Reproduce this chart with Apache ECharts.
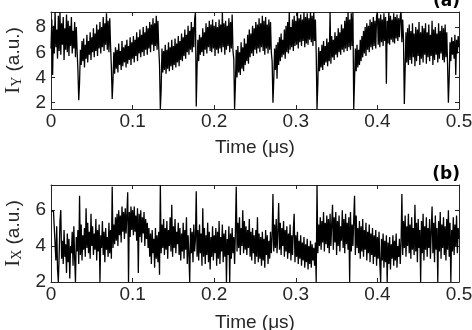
<!DOCTYPE html>
<html>
<head>
<meta charset="utf-8">
<script src="https://cdn.jsdelivr.net/npm/echarts@6/dist/echarts.min.js"></script>
<style>html,body{margin:0;padding:0;background:#fff}#c{width:472px;height:330px}</style>
</head>
<body>
<div id="c"></div>
<script>
// sampling grid (µs)
const t0 = 0, dt = 0.001;
const xTicks = [0, 0.1, 0.2, 0.3, 0.4, 0.5];
const yTicksA = [2, 4, 6, 8];
const yTicksB = [2, 4, 6];
// (a) I_Y (a.u.), one row = 0.02 µs
const IY = [
6.3,8.6,4.2,8.1,5.9,9.2,6.4,7.8,5.5,8.9,6.1,9.2,5.8,8.3,6.6,8.8,5.4,7.9,6.2,9.0,
6.0,8.5,5.7,8.1,6.5,8.8,5.9,7.7,6.3,8.4,5.6,8.0,6.1,4.6,2.2,3.6,6.2,5.0,6.9,5.3,
7.1,4.8,6.6,5.5,7.4,5.2,6.9,5.8,7.6,5.4,7.2,6.0,7.9,5.6,7.5,6.1,8.2,5.7,7.8,6.3,
8.4,5.9,8.0,6.4,8.8,6.1,8.3,6.6,9.1,6.2,8.5,6.0,8.7,6.5,4.8,2.3,3.8,6.0,4.3,6.4,
4.7,6.2,4.4,6.7,5.0,6.1,4.6,6.9,4.9,6.4,5.2,6.6,4.8,7.0,5.1,6.5,5.4,7.2,5.0,6.8,
5.5,7.3,5.2,7.0,5.7,7.6,5.3,7.2,5.9,7.8,5.6,7.4,6.0,8.0,5.7,7.6,6.2,8.1,5.8,7.9,
6.3,8.4,6.0,8.2,6.6,8.7,6.1,8.3,6.5,8.9,6.2,8.5,6.4,5.0,1.5,3.0,6.3,4.4,6.1,4.6,
6.6,4.3,6.2,4.7,6.8,4.5,6.4,4.9,7.0,4.6,6.5,5.0,7.1,4.8,6.7,5.2,7.3,4.9,6.9,5.4,
7.5,5.3,7.2,5.7,7.8,5.5,7.4,6.0,8.1,5.8,7.7,6.2,8.4,6.0,8.0,6.4,8.6,9.2,1.7,4.8,
7.0,5.3,7.4,5.8,7.2,6.0,7.9,5.7,7.6,6.2,8.3,5.9,8.0,6.4,8.5,6.1,8.2,6.0,8.6,6.3,
8.1,5.7,8.4,6.2,8.0,5.9,8.6,6.3,8.2,6.0,9.2,6.4,8.3,5.8,8.5,6.2,8.1,6.5,8.7,6.0,
8.4,6.3,9.0,6.1,5.5,1.5,3.5,6.2,4.0,6.5,4.4,6.0,4.2,6.8,4.7,6.4,4.5,7.1,5.0,6.7,
5.3,7.4,5.1,7.8,5.6,7.5,5.9,8.1,5.7,7.9,6.2,8.4,5.9,8.2,6.3,8.7,6.0,8.3,6.4,8.9,
6.1,8.5,5.8,8.8,6.3,8.2,5.9,8.6,6.2,8.4,6.0,5.3,2.0,3.8,6.3,4.6,6.6,3.9,6.8,5.0,
7.2,5.3,7.5,5.6,7.0,5.8,7.8,5.5,8.1,6.0,8.4,5.9,9.2,6.2,8.0,6.4,8.6,6.1,8.9,6.5,
8.5,6.6,9.2,6.3,8.7,6.8,9.0,6.5,8.6,6.9,9.2,6.4,8.8,6.7,9.1,6.6,8.7,7.0,9.2,6.8,
8.9,6.5,9.2,6.9,8.6,6.0,1.5,3.5,6.4,4.5,6.1,4.8,6.6,4.6,6.9,5.0,6.5,5.2,7.1,4.9,
6.8,5.3,9.2,5.1,7.3,5.6,7.0,5.4,7.6,5.8,7.3,5.6,7.9,6.0,7.6,5.8,8.2,6.2,7.9,6.0,
8.5,6.3,8.8,6.1,9.2,6.4,8.6,6.2,9.1,6.5,9.2,1.5,3.8,6.3,4.5,6.6,4.8,6.2,5.0,7.0,
5.3,7.3,5.6,7.7,5.9,8.0,5.7,8.3,6.2,8.1,6.0,8.6,6.4,8.4,6.2,8.8,6.5,8.5,6.3,8.9,
9.2,6.6,8.7,6.4,9.0,6.8,8.6,6.5,9.1,6.9,8.8,3.5,8.5,6.7,9.2,6.6,8.9,7.0,8.6,6.8,
9.1,6.7,8.8,7.1,9.0,6.9,8.7,7.2,8.9,9.2,6.8,8.6,7.0,1.9,4.6,7.6,5.2,7.9,5.0,8.2,
5.4,7.7,5.1,8.3,5.6,7.5,4.9,8.0,5.3,7.8,5.7,8.4,5.0,7.6,5.5,8.1,5.2,7.9,5.8,8.3,
5.1,7.6,5.6,8.2,5.3,7.4,5.7,8.5,5.0,7.8,5.4,8.0,5.8,7.5,5.2,8.3,5.5,7.7,5.9,8.1,
5.4,7.9,5.2,8.2,5.6,7.6,5.0,2.0,4.0,6.8,5.3,7.2,5.8,6.9,5.5,7.4,4.2,7.0,5.9,7.3,
6.4
];
// (b) I_X (a.u.), one row = 0.02 µs
const IX = [
5.95,5.95,5.9,5.95,5.9,5.9,3.2,5.1,2.7,2.0,3.5,5.4,6.0,3.3,4.3,3.0,4.9,3.4,4.1,2.5,
4.7,3.1,4.4,2.2,4.0,3.6,4.8,2.9,5.1,3.3,2.0,4.5,3.7,4.9,3.0,6.8,3.5,5.2,3.2,4.6,
3.8,5.0,3.4,6.1,3.9,5.3,3.6,4.8,3.3,5.8,4.0,5.1,3.5,4.7,3.8,5.5,3.2,4.9,3.7,5.2,
2.0,4.6,3.9,5.4,3.5,4.8,3.1,5.0,3.8,4.5,3.4,5.3,3.6,4.9,3.3,7.3,3.9,5.2,4.1,5.6,
4.3,5.8,4.0,6.0,4.6,5.7,4.2,6.2,4.8,5.9,4.4,6.1,4.7,5.8,7.0,2.0,5.9,4.5,6.2,4.9,
6.0,4.6,6.2,4.8,5.7,4.3,6.1,2.5,5.8,4.5,6.0,4.2,5.6,4.7,5.9,4.0,5.5,4.4,5.3,3.9,
5.0,3.4,4.7,3.0,4.9,3.6,4.4,2.8,5.0,3.3,4.6,3.1,4.8,2.4,7.4,3.6,5.2,3.9,5.5,3.5,
5.0,3.8,5.4,3.3,4.9,4.0,5.6,3.7,6.3,3.4,5.1,3.9,5.5,3.6,4.8,4.1,5.3,3.5,5.0,3.2,
4.7,3.7,5.3,3.3,4.9,3.8,5.6,3.0,4.6,3.5,2.0,5.0,3.6,4.8,3.1,5.2,3.7,4.4,7.05,3.4,
4.9,3.2,5.2,3.6,4.7,2.9,6.1,3.4,5.0,3.0,4.6,3.5,5.3,3.1,4.8,2.7,4.5,3.4,5.1,3.2,
4.6,3.6,5.0,2.9,4.8,3.3,5.4,3.0,4.5,3.7,5.2,3.1,4.7,3.4,4.9,2.0,4.4,3.5,5.1,2.0,
4.7,3.3,5.0,3.6,4.5,3.0,4.8,7.3,3.7,5.3,3.9,5.6,3.5,5.0,4.0,6.0,3.6,5.4,3.8,5.1,
3.5,4.9,3.9,5.5,3.4,4.8,3.2,5.0,3.6,4.6,3.0,4.9,3.4,5.6,3.1,4.7,3.3,4.5,2.9,4.8,
3.2,4.4,2.8,4.9,3.5,4.6,3.0,4.3,3.3,4.8,3.6,4.5,6.9,3.7,5.2,3.9,5.5,3.6,4.8,6.4,
3.8,5.3,3.5,5.0,4.0,5.4,3.4,4.9,3.7,5.1,3.3,4.7,3.6,5.2,3.2,4.6,3.5,4.9,5.8,3.1,
4.6,3.4,4.8,3.0,4.3,3.3,4.6,2.9,4.2,3.2,4.5,2.8,4.1,3.1,4.4,2.7,4.0,3.0,4.3,2.8,
4.1,3.2,3.9,2.9,4.2,2.0,7.4,3.6,5.2,4.0,5.6,3.8,5.4,4.2,5.9,3.7,5.3,4.1,5.7,3.9,
5.5,3.6,5.8,4.0,5.2,6.3,3.8,5.6,4.2,5.9,3.5,5.4,4.0,5.7,3.7,5.1,4.3,6.0,3.9,5.5,
3.6,5.8,4.1,5.3,3.8,5.6,2.0,5.9,3.7,5.2,4.0,5.5,6.8,3.5,5.7,3.9,5.0,3.6,5.4,3.3,
5.1,3.7,5.5,3.4,4.9,3.8,5.3,3.2,4.8,3.6,5.2,3.1,4.7,3.5,5.0,3.0,4.6,3.4,4.9,2.9,
4.5,3.3,4.8,3.0,2.0,4.4,3.2,4.7,2.8,4.3,3.1,4.6,2.0,4.2,3.0,4.5,2.7,4.1,3.3,4.6,
2.9,4.3,3.2,4.7,2.8,4.0,3.4,4.4,3.0,4.2,6.9,3.5,5.4,3.9,5.7,3.4,5.1,4.0,5.8,3.6,
5.2,3.3,5.6,3.8,5.0,3.5,6.3,3.7,5.3,3.1,5.5,3.9,4.9,2.0,5.4,3.6,5.8,3.2,5.1,3.8,
5.6,3.4,5.0,3.9,5.5,3.3,4.8,6.2,3.6,5.3,3.1,5.7,3.8,5.0,2.0,5.4,3.7,5.9,3.3,5.2,
3.9,5.6,3.5,5.1,3.2,5.5,3.8,6.0,3.4,5.3,2.0,4.9,3.7,5.6,3.5,5.2,4.0,5.7,3.6,5.0,
4.4
];

const C = '#262626';
const FONT = '"Liberation Sans", Arial, sans-serif';
const dataA = IY.map((v, i) => [t0 + i * dt, v]);
const dataB = IX.map((v, i) => [t0 + i * dt, v]);

function xAx(grid, pos, show, gap) {
  return {
    gridIndex: grid, type: 'value', position: pos, min: 0, max: 0.5, interval: 0.1,
    name: show ? 'Time (μs)' : '', nameLocation: 'middle', nameGap: gap || 0,
    nameTextStyle: {color: C, fontFamily: FONT, fontSize: 19},
    axisLine: {show: true, onZero: false, lineStyle: {color: C, width: 1}},
    axisTick: {show: true, inside: true, length: 4, lineStyle: {color: C}},
    axisLabel: {show: show, color: C, fontFamily: FONT, fontSize: 19, margin: 3},
    splitLine: {show: false}
  };
}
function yAx(grid, pos, show, min, max, ticks, sub) {
  return {
    gridIndex: grid, type: 'value', position: pos, min: min, max: max,
    name: show ? '{i|I}{s|' + sub + '}{t| (a.u.)}' : '', nameLocation: 'middle', nameGap: 25,
    nameTextStyle: {color: C, rich: {
      i: {fontFamily: '"Liberation Serif", serif', fontSize: 21, color: C},
      s: {fontFamily: '"Liberation Serif", serif', fontSize: 14, color: C, verticalAlign: 'bottom', padding: [8, 0, 0, 0]},
      t: {fontFamily: FONT, fontSize: 19, color: C}
    }},
    axisLine: {show: true, onZero: false, lineStyle: {color: C, width: 1}},
    axisTick: {show: true, inside: true, length: 4, customValues: ticks, lineStyle: {color: C}},
    axisLabel: {show: show, color: C, fontFamily: FONT, fontSize: 19, margin: 5, customValues: ticks},
    splitLine: {show: false}
  };
}

const chart = echarts.init(document.getElementById('c'), null, {renderer: 'canvas'});
chart.setOption({
  animation: false,
  backgroundColor: '#fff',
  grid: [
    {left: 51, top: 12, width: 408, height: 97, show: false, containLabel: false, outerBoundsMode: 'none'},
    {left: 51, top: 185, width: 408, height: 97, show: false, containLabel: false, outerBoundsMode: 'none'}
  ],
  xAxis: [xAx(0, 'bottom', true, 29), xAx(1, 'bottom', true, 31), xAx(0, 'top', false), xAx(1, 'top', false)],
  yAxis: [
    yAx(0, 'left', true, 1.5, 9.2, yTicksA, 'Y'), yAx(1, 'left', true, 2, 7.4, yTicksB, 'X'),
    yAx(0, 'right', false, 1.5, 9.2, yTicksA, 'Y'), yAx(1, 'right', false, 2, 7.4, yTicksB, 'X')
  ],
  series: [
    {type: 'line', xAxisIndex: 0, yAxisIndex: 0, data: dataA, showSymbol: false, symbol: 'none',
     lineStyle: {color: '#000', width: 1.3}, sampling: null, clip: true},
    {type: 'line', xAxisIndex: 1, yAxisIndex: 1, data: dataB, showSymbol: false, symbol: 'none',
     lineStyle: {color: '#000', width: 1.3}, sampling: null, clip: true}
  ],
  graphic: [
    {type: 'text', right: 12, top: -7, style: {text: '(a)', font: 'bold 17px "DejaVu Sans", sans-serif', fill: '#000'}},
    {type: 'text', right: 12, top: 166, style: {text: '(b)', font: 'bold 17px "DejaVu Sans", sans-serif', fill: '#000'}}
  ]
});
</script>
</body>
</html>
